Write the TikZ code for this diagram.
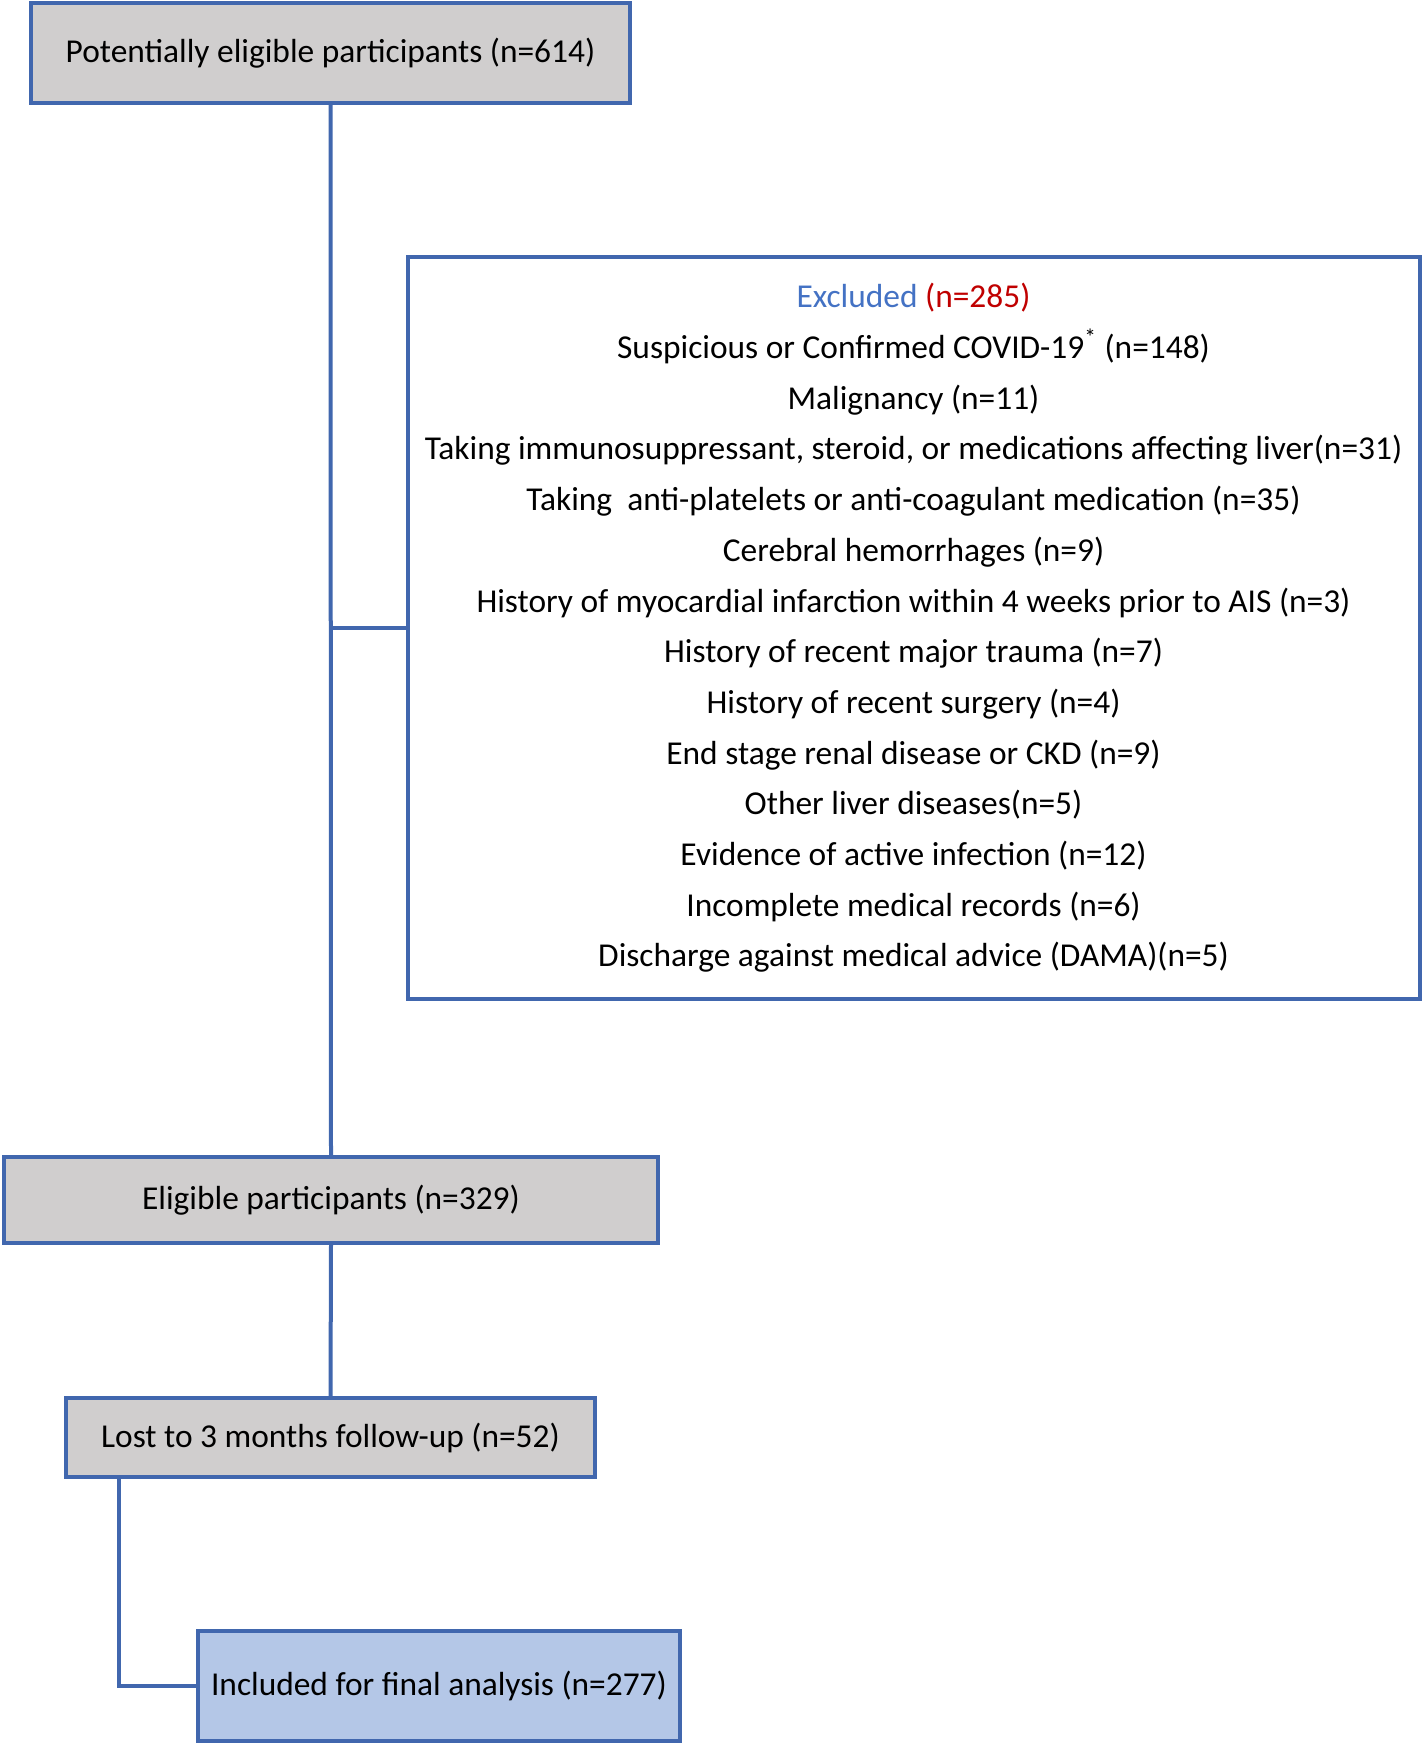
\documentclass[tikz,border=0pt]{standalone}
\usepackage{fontspec}
\setmainfont{Carlito}
\definecolor{bord}{HTML}{4167AE}
\definecolor{grayfill}{HTML}{D0CECE}
\definecolor{bluefill}{HTML}{B4C7E7}
\definecolor{exblue}{HTML}{4472C4}
\definecolor{exred}{HTML}{C00000}
\tikzset{
  px/.style={x=0.5pt,y=-0.5pt},
  flowbox/.style={draw=bord, line width=2pt, inner sep=0pt, font=\fontsize{16.7}{20}\selectfont, text=black},
  conn/.style={draw=bord, line width=2pt}
}
\begin{document}
\begin{tikzpicture}[px]
\useasboundingbox (0,0) rectangle (1421,1745);
\node[flowbox, fill=grayfill, minimum width=299.5pt, minimum height=50pt] (p) at (330.5,53) {Potentially eligible participants (n=614)};
\node[flowbox, fill=white, minimum width=506pt, minimum height=371pt, align=center, font=\fontsize{16.7}{25.35}\selectfont] (ex) at (913.5,628)
{{\color{exblue}Excluded} {\color{exred}(n=285)}\\
Suspicious or Confirmed COVID-19\textsuperscript{*} (n=148)\\
Malignancy (n=11)\\
Taking immunosuppressant, steroid, or medications affecting liver(n=31)\\
Taking\ \ anti-platelets or anti-coagulant medication (n=35)\\
Cerebral hemorrhages (n=9)\\
History of myocardial infarction within 4 weeks prior to AIS (n=3)\\
History of recent major trauma (n=7)\\
History of recent surgery (n=4)\\
End stage renal disease or CKD (n=9)\\
Other liver diseases(n=5)\\
Evidence of active infection (n=12)\\
Incomplete medical records (n=6)\\
Discharge against medical advice (DAMA)(n=5)};
\node[flowbox, fill=grayfill, minimum width=327pt, minimum height=43pt] (e) at (331,1200) {Eligible participants (n=329)};
\node[flowbox, fill=grayfill, minimum width=264.5pt, minimum height=39.5pt] (l) at (330.5,1437.5) {Lost to 3 months follow-up (n=52)};
\node[flowbox, fill=bluefill, minimum width=241pt, minimum height=55pt] (f) at (439,1686) {Included for final analysis (n=277)};
\coordinate (br) at (330.5,627.5);
\coordinate (lb) at (119,1686);
\draw[conn] (p.south) -- (e.north);
\draw[conn] (br) -- (ex.west |- br);
\draw[conn] (e.south) -- (l.north);
\draw[conn] (l.south -| lb) -- (lb) -- (f.west);
\end{tikzpicture}
\end{document}
